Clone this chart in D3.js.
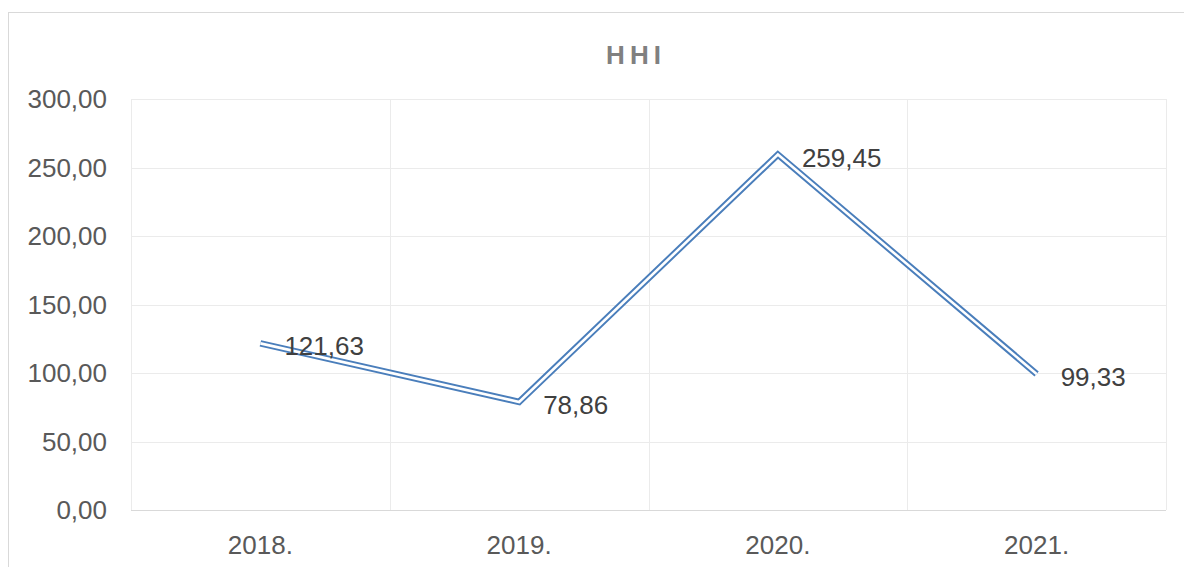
<!DOCTYPE html>
<html>
<head>
<meta charset="utf-8">
<script src="https://cdn.jsdelivr.net/npm/d3@7"></script>
<style>
  body { margin: 0; background: #fff; }
  svg { font-family: "Liberation Sans", Arial, sans-serif; }
</style>
</head>
<body>
<svg id="chart" width="1184" height="567"></svg>
<script>
// chart data
var years = ['2018.', '2019.', '2020.', '2021.'];
var hhi = [121.63, 78.86, 259.45, 99.33];
var yTicks = [0, 50, 100, 150, 200, 250, 300];

var svg = d3.select('#chart');
var margin = {left: 131, right: 1166, top: 99, bottom: 510};

var fmt = function(v) { return d3.format('.2f')(v).replace('.', ','); };

// outer chart border
svg.append('rect')
    .attr('x', 8.5).attr('y', 12.5)
    .attr('width', 1200).attr('height', 600)
    .attr('fill', 'none')
    .attr('stroke', '#d9d9d9');

svg.append('text')
    .attr('x', 636).attr('y', 55)
    .attr('dy', '0.35em')
    .attr('text-anchor', 'middle')
    .attr('font-size', 26).attr('font-weight', 'bold')
    .attr('letter-spacing', 5)
    .attr('fill', '#808080')
    .text('HHI');

var x = d3.scaleBand().domain(years).range([margin.left, margin.right]);
var y = d3.scaleLinear().domain([0, 300]).range([margin.bottom, margin.top]);

//horizontal gridlines
svg.append('g').selectAll('line')
    .data(yTicks.slice(1))
    .enter().append('line')
    .attr('x1', margin.left).attr('x2', margin.right)
    .attr('y1', function(d) { return Math.round(y(d)) + 0.5; })
    .attr('y2', function(d) { return Math.round(y(d)) + 0.5; })
    .attr('stroke', '#ebebeb');

//vertical gridlines on band edges
var edges = years.map(function(d) { return x(d); }).concat([margin.right]);
svg.append('g').selectAll('line')
    .data(edges)
    .enter().append('line')
    .attr('x1', function(d) { return Math.round(d) + 0.5; })
    .attr('x2', function(d) { return Math.round(d) + 0.5; })
    .attr('y1', margin.top).attr('y2', margin.bottom)
    .attr('stroke', '#ebebeb');

// x axis line
svg.append('line')
    .attr('x1', margin.left).attr('x2', margin.right)
    .attr('y1', margin.bottom + 0.5).attr('y2', margin.bottom + 0.5)
    .attr('stroke', '#d9d9d9');

// y labels
svg.append('g').selectAll('text')
    .data(yTicks)
    .enter().append('text')
    .attr('x', 107)
    .attr('y', function(d) { return y(d); })
    .attr('dy', '0.35em')
    .attr('text-anchor', 'end')
    .attr('font-size', 26)
    .attr('fill', '#595959')
    .text(fmt);

// x labels
svg.append('g').selectAll('text')
    .data(years)
    .enter().append('text')
    .attr('x', function(d) { return x(d) + x.bandwidth() / 2; })
    .attr('y', 545)
    .attr('dy', '0.35em')
    .attr('text-anchor', 'middle')
    .attr('font-size', 26)
    .attr('fill', '#595959')
    .text(function(d) { return d; });

// double line: blue wide stroke with white core
var line = d3.line()
    .x(function(d, i) { return x(years[i]) + x.bandwidth() / 2; })
    .y(function(d) { return y(d); });

svg.append('path')
    .datum(hhi)
    .attr('d', line)
    .attr('fill', 'none')
    .attr('stroke', '#4a7ebb')
    .attr('stroke-width', 6.5);
svg.append('path')
    .datum(hhi)
    .attr('d', line)
    .attr('fill', 'none')
    .attr('stroke', '#fff')
    .attr('stroke-width', 2.6);

// value labels
svg.append('g').selectAll('text')
    .data(hhi)
    .enter().append('text')
    .attr('x', function(d, i) { return x(years[i]) + x.bandwidth() / 2 + 24; })
    .attr('y', function(d) { return y(d) + 3; })
    .attr('dy', '0.35em')
    .attr('font-size', 26)
    .attr('fill', '#404040')
    .text(fmt);
</script>
</body>
</html>
